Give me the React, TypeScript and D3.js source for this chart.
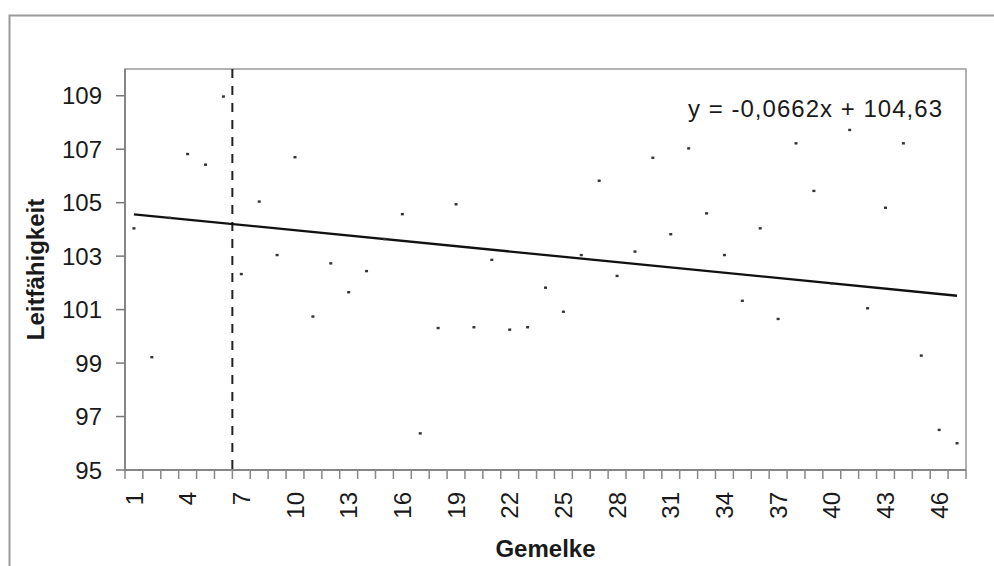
import React from "react";
import * as d3 from "d3";

const categories: number[] = d3.range(1, 48);
const values: number[] = [
  104.04, 99.22, 104.43, 106.82, 106.42, 108.97, 102.33, 105.04, 103.04, 106.7,
  100.74, 102.73, 101.65, 102.44, 103.64, 104.57, 96.37, 100.31, 104.94, 100.34,
  102.86, 100.25, 100.34, 101.82, 100.92, 103.04, 105.82, 102.26, 103.17, 106.68,
  103.82, 107.03, 104.6, 103.04, 101.33, 104.04, 100.65, 107.22, 105.44, 101.98,
  107.72, 101.05, 104.81, 107.22, 99.28, 96.5, 96.0,
];
const yTicks: number[] = [95, 97, 99, 101, 103, 105, 107, 109];
const xLabelCats: number[] = categories.filter((c) => (c - 1) % 3 === 0);
const trendSlope = -0.0662;
const trendIntercept = 104.63;
const markerCategory = 7;
const equationText = "y = -0,0662x + 104,63";
const xTitle = "Gemelke";
const yTitle = "Leitfähigkeit";

const W = 994;
const H = 566;
const left = 125;
const right = 966;
const top = 69;
const bottom = 470;
const FONT = "'Liberation Sans', Arial, sans-serif";

export default function App() {
  const x = d3
    .scaleBand<number>()
    .domain(categories)
    .range([left, right])
    .paddingInner(0)
    .paddingOuter(0);
  const bw = x.bandwidth();
  const cx = (c: number) => (x(c) as number) + bw / 2;
  const y = d3.scaleLinear().domain([95, 110]).range([bottom, top]);

  const first = categories[0];
  const last = categories[categories.length - 1];
  const trend = d3
    .line<number>()
    .x((c) => cx(c))
    .y((c) => y(trendSlope * c + trendIntercept));

  const boundaries = d3.range(categories.length + 1).map((i) => left + i * bw);
  const dashX = x(markerCategory) as number;

  return (
    <svg
      width={W}
      height={H}
      style={{ position: "absolute", left: 0, top: 0, background: "#fff" }}
      fontFamily={FONT}
    >
      <rect x={0} y={0} width={W} height={H} fill="#fff" />
      {/* outer chart frame */}
      <rect x={9.5} y={15.5} width={1100} height={700} fill="none" stroke="#9a9a9a" strokeWidth={2} />

      {/* plot area border */}
      <rect x={left} y={top} width={right - left} height={bottom - top} fill="none" stroke="#999" strokeWidth={1.5} />

      {/* axes */}
      <line x1={left} x2={left} y1={top} y2={bottom} stroke="#777" strokeWidth={1.5} />
      <line x1={left} x2={right} y1={bottom} y2={bottom} stroke="#777" strokeWidth={1.5} />

      {/* y ticks */}
      {yTicks.map((t) => (
        <g key={t}>
          <line x1={116} x2={left} y1={y(t)} y2={y(t)} stroke="#777" strokeWidth={1.5} />
          <text x={102} y={y(t)} dy="0.36em" textAnchor="end" fontSize={24} fill="#1a1a1a">
            {t}
          </text>
        </g>
      ))}

      {/* x ticks */}
      {boundaries.map((bx, i) => (
        <line key={i} x1={bx} x2={bx} y1={bottom} y2={bottom + 9} stroke="#888" strokeWidth={1.5} />
      ))}
      {xLabelCats.map((c) => (
        <text
          key={c}
          transform={`translate(${cx(c)},${492}) rotate(-90)`}
          dy="0.36em"
          textAnchor="end"
          fontSize={24}
          fill="#1a1a1a"
        >
          {c}
        </text>
      ))}

      {/* dashed marker line */}
      <line x1={dashX} x2={dashX} y1={top} y2={bottom} stroke="#222" strokeWidth={2} strokeDasharray="9,8" />

      {/* trendline */}
      <path d={trend([first, last]) || ""} fill="none" stroke="#111" strokeWidth={2.3} />

      {/* points */}
      {values.map((v, i) => (
        <rect key={i} x={cx(categories[i]) - 1.5} y={y(v) - 1.2} width={3} height={2.4} fill="#333" />
      ))}

      {/* equation */}
      <text x={942} y={117} textAnchor="end" fontSize={24} fill="#1a1a1a" textLength={254}>
        {equationText}
      </text>

      {/* titles */}
      <text x={(left + right) / 2} y={557} textAnchor="middle" fontSize={24} fontWeight="bold" fill="#1a1a1a">
        {xTitle}
      </text>
      <text
        transform={`translate(44,${(top + bottom) / 2}) rotate(-90)`}
        textAnchor="middle"
        fontSize={24}
        fontWeight="bold"
        fill="#1a1a1a"
      >
        {yTitle}
      </text>
    </svg>
  );
}
